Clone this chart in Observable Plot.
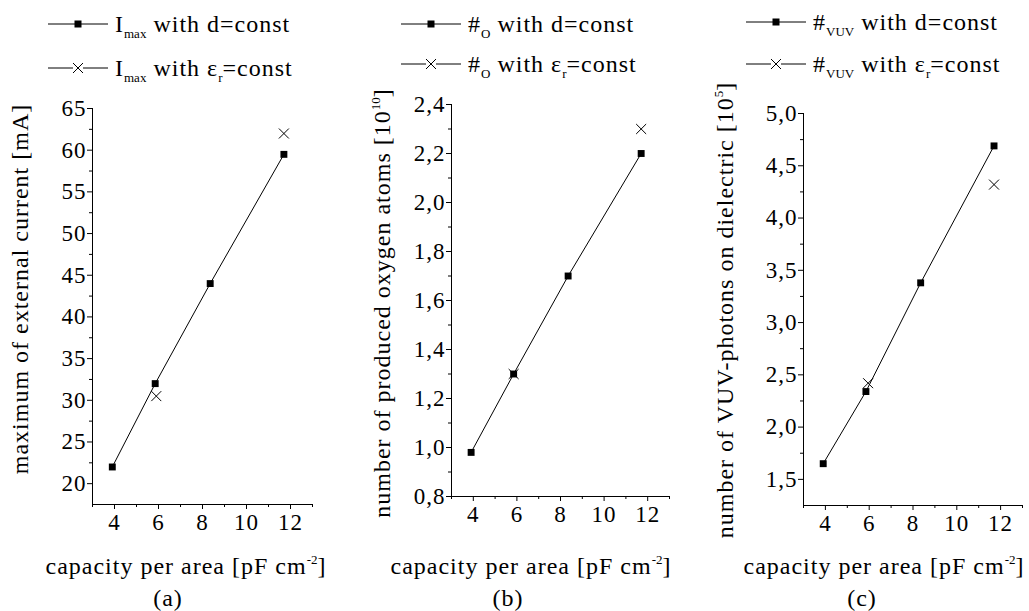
<!DOCTYPE html>
<html>
<head>
<meta charset="utf-8">
<script src="https://cdn.jsdelivr.net/npm/d3@7"></script>
<script src="https://cdn.jsdelivr.net/npm/@observablehq/plot@0.6"></script>
<style>
  html, body { margin: 0; padding: 0; background: #fff; }
  #root { position: relative; width: 1029px; height: 611px; overflow: hidden; font-family: 'Liberation Serif', serif; color: #000; }
  .panel { position: absolute; top: 0; }
  .lbl { position: absolute; white-space: nowrap; font-family: 'Liberation Serif', serif; font-size: 24px; letter-spacing: 1px; line-height: 1; }
  .ylbl { transform: translate(-50%, -50%) rotate(-90deg); }
  .xlbl { transform: translate(-50%, -50%); }
  .leg { position: absolute; white-space: nowrap; font-family: 'Liberation Serif', serif; font-size: 24px; letter-spacing: 1px; line-height: 1; display: flex; align-items: center; }
  .leg svg { display: block; margin-right: 7px; flex: none; }
  .leg span { white-space: pre; }
  sub { font-size: 13px; letter-spacing: 0; vertical-align: -6px; line-height: 0; }
  sup { font-size: 13px; letter-spacing: 0; vertical-align: 10px; line-height: 0; }
</style>
</head>
<body>
<div id="root"></div>
<script>
// ---- data ----
const capD = [3.9, 5.85, 8.35, 11.7];          // capacity per area, d=const series
const imaxD = [22, 32, 44, 59.5];              // (a) I_max, d=const
const capEa = [5.9, 11.7];                     // capacity per area, eps_r=const (a)
const imaxE = [30.5, 62];                      // (a) I_max, eps_r=const
const oD = [0.98, 1.3, 1.7, 2.2];              // (b) #O, d=const
const capEb = [5.85, 11.7];
const oE = [1.3, 2.3];                         // (b) #O, eps_r=const
const vuvD = [1.65, 2.34, 3.38, 4.69];         // (c) #VUV, d=const
const capEc = [5.95, 11.7];
const vuvE = [2.42, 4.32];                     // (c) #VUV, eps_r=const

const xTicks = [4, 6, 8, 10, 12];
const xMinor = [3, 5, 7, 9, 11, 13];
const yTicksA = [20, 25, 30, 35, 40, 45, 50, 55, 60, 65];
const yMinorA = [22.5, 27.5, 32.5, 37.5, 42.5, 47.5, 52.5, 57.5, 62.5];
const yTicksB = [0.8, 1.0, 1.2, 1.4, 1.6, 1.8, 2.0, 2.2, 2.4];
const yMinorB = [0.9, 1.1, 1.3, 1.5, 1.7, 1.9, 2.1, 2.3];
const yTicksC = [1.5, 2.0, 2.5, 3.0, 3.5, 4.0, 4.5, 5.0];
const yMinorC = [1.75, 2.25, 2.75, 3.25, 3.75, 4.25, 4.75];

const root = document.getElementById("root");
const comma = d => d.toFixed(1).replace(".", ",");

function panel(cfg) {
  const dRows = cfg.xD.map((x, i) => ({x, y: cfg.yD[i]}));
  const eRows = cfg.xE.map((x, i) => ({x, y: cfg.yE[i]}));
  const plot = Plot.plot({
    width: cfg.width, height: 611,
    marginTop: cfg.mt, marginBottom: cfg.mb, marginLeft: cfg.ml, marginRight: cfg.mr,
    style: {fontFamily: "'Liberation Serif', serif", fontSize: "23px", letterSpacing: "1px", color: "black", background: "transparent", overflow: "visible"},
    x: {domain: [3, 13]},
    y: {domain: cfg.yDomain},
    marks: [
      Plot.axisX({ticks: xTicks, tickSize: 5, tickPadding: 4, label: null, fontSize: 23}),
      Plot.axisX({ticks: xMinor, tickSize: 3, text: null, label: null}),
      Plot.axisY({ticks: cfg.yTicks, tickSize: 5, tickPadding: 1, tickFormat: cfg.fmt, label: null, fontSize: 23}),
      Plot.axisY({ticks: cfg.yMinor, tickSize: 3, text: null, label: null}),
      Plot.ruleX([3], {stroke: "black"}),
      Plot.ruleY([cfg.yDomain[0]], {stroke: "black"}),
      Plot.line(dRows, {x: "x", y: "y", stroke: "black", strokeWidth: 1}),
      Plot.dot(dRows, {x: "x", y: "y", symbol: "square", fill: "black", stroke: "none", r: 3.9}),
      Plot.dot(eRows, {x: "x", y: "y", symbol: "times", stroke: "black", strokeWidth: 1, r: 4.6})
    ]
  });
  const div = document.createElement("div");
  div.className = "panel";
  div.style.left = cfg.left + "px";
  div.appendChild(plot);
  root.appendChild(div);
}

function html(cls, x, y, content) {
  const d = document.createElement("div");
  d.className = cls;
  d.style.left = x + "px";
  d.style.top = y + "px";
  d.innerHTML = content;
  root.appendChild(d);
}

const sq = '<svg width="60" height="14"><line x1="0" y1="7" x2="60" y2="7" stroke="black" stroke-width="1"/><rect x="26.5" y="3.5" width="7" height="7" fill="black"/></svg>';
const cr = '<svg width="60" height="14"><line x1="0" y1="7" x2="25" y2="7" stroke="black" stroke-width="1"/><line x1="35" y1="7" x2="60" y2="7" stroke="black" stroke-width="1"/><path d="M25,2L35,12M25,12L35,2" stroke="black" stroke-width="1" fill="none"/></svg>';

function legend(x, y1, y2, name) {
  html("leg", x, y1 - 12, sq + "<span>" + name + " with d=const</span>");
  html("leg", x, y2 - 12, cr + "<span>" + name + " with &epsilon;<sub>r</sub>=const</span>");
}

panel({left: 0, width: 340, ml: 92, mr: 28, mt: 108, mb: 107,
  xD: capD, yD: imaxD, xE: capEa, yE: imaxE,
  yDomain: [17.5, 65], yTicks: yTicksA, yMinor: yMinorA, fmt: d => String(d)});
panel({left: 340, width: 340, ml: 111, mr: 11, mt: 104, mb: 115,
  xD: capD, yD: oD, xE: capEb, yE: oE,
  yDomain: [0.8, 2.4], yTicks: yTicksB, yMinor: yMinorB, fmt: comma});
panel({left: 680, width: 349, ml: 123, mr: 7, mt: 113, mb: 106,
  xD: capD, yD: vuvD, xE: capEc, yE: vuvE,
  yDomain: [1.25, 5.0], yTicks: yTicksC, yMinor: yMinorC, fmt: comma});

legend(48, 24, 68, "I<sub>max</sub>");
legend(401, 24, 64, "#<sub>O</sub>");
legend(746, 22, 64, "#<sub>VUV</sub>");

const xl = "capacity per area [pF cm<sup>-2</sup>]";
html("lbl xlbl", 186, 566, xl);
html("lbl xlbl", 531, 566, xl);
html("lbl xlbl", 884, 566, xl);
html("lbl xlbl", 168, 598, "(a)");
html("lbl xlbl", 508, 598, "(b)");
html("lbl xlbl", 862, 598, "(c)");

html("lbl ylbl", 20, 289, "maximum of external current [mA]");
html("lbl ylbl", 382, 303, "number of produced oxygen atoms [10<sup>10</sup>]");
html("lbl ylbl", 725, 310, "number of VUV-photons on dielectric [10<sup>5</sup>]");
</script>
</body>
</html>
